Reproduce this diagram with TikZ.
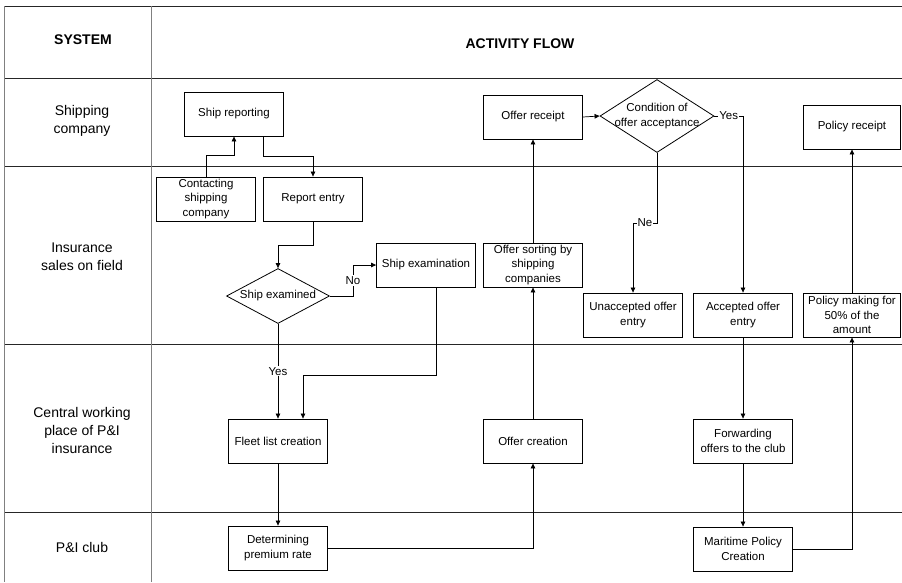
\documentclass[tikz,border=0pt]{standalone}
\usepackage{fontspec}
\setmainfont{Liberation Sans}
\usepackage{tikz}
\usetikzlibrary{arrows.meta,shapes.geometric}
\tikzset{
	box/.style={draw, line width=0.8pt, minimum width=99pt, minimum height=44pt, inner sep=1pt, align=center, font=\fontsize{11.5}{14.8}\selectfont},
	decision/.style={draw, diamond, line width=0.8pt, inner sep=-6pt, align=center, font=\fontsize{11.5}{14.8}\selectfont},
	lane/.style={align=center, font=\fontsize{14}{18}\selectfont},
	head/.style={font=\fontsize{14}{17}\selectfont\bfseries},
	flow/.style={-{Triangle[length=5pt,width=4.5pt]}, line width=0.7pt},
	lbl/.style={fill=white, inner sep=1pt, font=\fontsize{11.5}{14}\selectfont}
}

\begin{document}
\begin{tikzpicture}[x=1pt, y=-1pt]
			%%%%% START %%%%%
			\useasboundingbox (0, 0) rectangle (902, 582);
			
			\draw[line width=0.8pt, black!85] (4, 6) -- (902, 6);
			\draw[line width=0.8pt, black!85] (4, 78) -- (902, 78);
			\draw[line width=0.8pt, black!85] (4, 166) -- (902, 166);
			\draw[line width=0.8pt, black!85] (4, 344) -- (902, 344);
			\draw[line width=0.8pt, black!85] (4, 512) -- (902, 512);
			\draw[line width=1pt, black!50] (4, 6) -- (4, 582);
			\draw[line width=1pt, black!50] (151, 6) -- (151, 582);
			
			\node[head] (hsystem) at (83, 40) {SYSTEM};
			\node[head] (hflow) at (520, 44) {ACTIVITY FLOW};
			
			\node[lane] (lshipping) at (82, 121) {Shipping\\company};
			\node[lane] (lsales) at (82, 257) {Insurance\\sales on field};
			\node[lane] (lcentral) at (82, 430) {Central working\\place of P\&I\\insurance};
			\node[lane] (lclub) at (82, 547) {P\&I club};
			
			\node[box] (shiprep) at (234, 114) {Ship reporting};
			\node[box] (contact) at (206, 199) {Contacting\\shipping\\company};
			\node[box] (report) at (313, 199) {Report entry};
			\node[decision, shape aspect=1.87, minimum width=103pt, minimum height=55pt] (exam) at (278, 296) {Ship examined};
			\node[box] (shipex) at (426, 265) {Ship examination};
			\node[box] (fleet) at (278, 441) {Fleet list creation};
			\node[box] (prem) at (278, 548) {Determining\\premium rate};
			
			\node[box] (offcre) at (533, 441) {Offer creation};
			\node[box] (offsort) at (533, 265) {Offer sorting by\\shipping\\companies};
			\node[box] (offrec) at (533, 117) {Offer receipt};
			\node[decision, shape aspect=1.56, minimum width=114pt, minimum height=73pt] (cond) at (657, 116) {Condition of\\offer acceptance};
			\node[box] (unacc) at (633, 315) {Unaccepted offer\\entry};
			\node[box] (accept) at (743, 315) {Accepted offer\\entry};
			\node[box] (fwd) at (743, 441) {Forwarding\\offers to the club};
			\node[box] (mar) at (743, 549) {Maritime Policy\\Creation};
			\node[box, minimum width=97pt] (polmk) at (852, 315) {Policy making for\\50\% of the\\amount};
			\node[box, minimum width=97pt] (polrec) at (852, 127) {Policy receipt};
			
			\draw[flow] (contact.north) -- ++(0, -21) -| (shiprep.south);
			\draw[flow] ([xshift=29pt]shiprep.south) -- ++(0, 20) -| (report.north);
			\draw[flow] (report.south) -- ++(0, 24) -| (exam.north);
			\draw[flow] (exam.east) -- ++(23, 0) |- (shipex.west) node[lbl, pos=0.25] {No};
			\draw[flow] (exam.south) -- (fleet.north) node[lbl, midway] {Yes};
			\draw[flow] ([xshift=10pt]shipex.south) -- ++(0, 88) -| ([xshift=25pt]fleet.north);
			\draw[flow] (fleet.south) -- (prem.north);
			\draw[flow] (prem.east) -| (offcre.south);
			\draw[flow] (offcre.north) -- (offsort.south);
			\draw[flow] (offsort.north) -- (offrec.south);
			\draw[flow] (offrec.east) -- (cond.west);
			\draw[flow] (cond.east) -| (accept.north) node[lbl, pos=0.25] {Yes};
			\draw[flow] (cond.south) -- ++(0, 70) -| (unacc.north) node[lbl, pos=0.25] {Ne};
			\draw[flow] (accept.south) -- (fwd.north);
			\draw[flow] (fwd.south) -- (mar.north);
			\draw[flow] (mar.east) -| (polmk.south);
			\draw[flow] (polmk.north) -- (polrec.south);
			%%%%% END %%%%%
\end{tikzpicture}
\end{document}
